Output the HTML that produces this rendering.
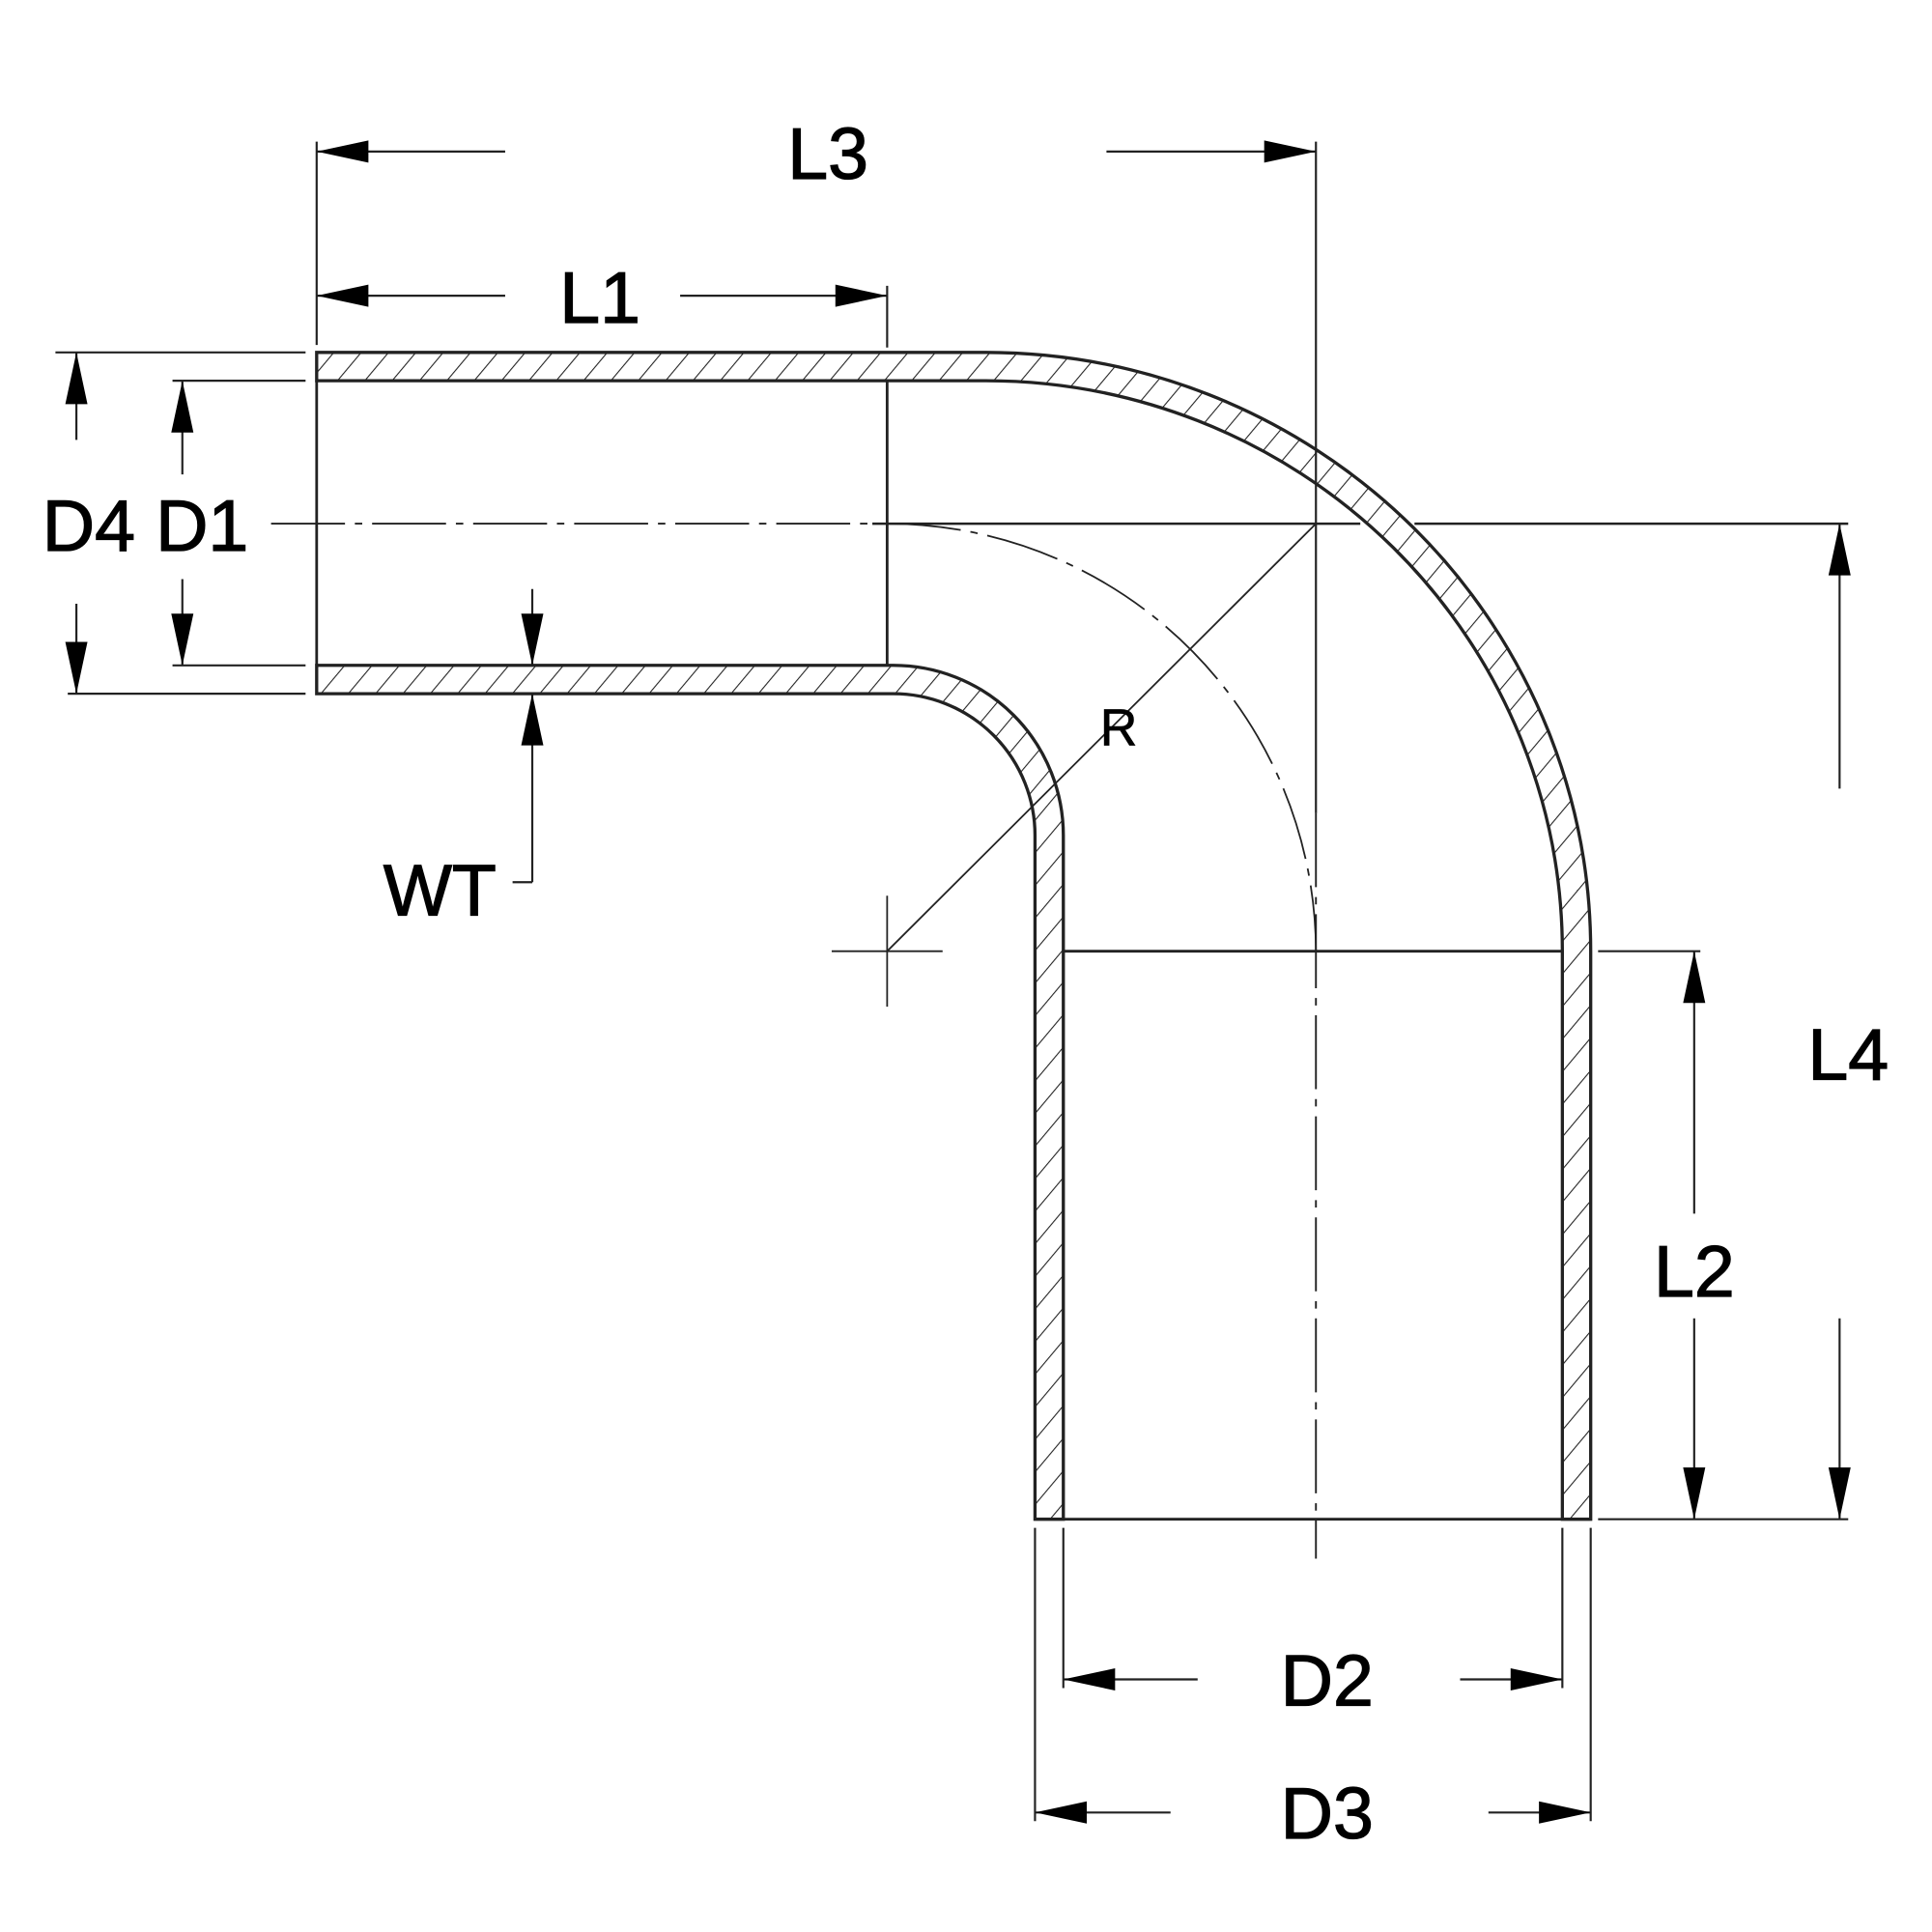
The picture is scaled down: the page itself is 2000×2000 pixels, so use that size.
<!DOCTYPE html>
<html><head><meta charset="utf-8"><style>html,body{margin:0;padding:0;background:#fff}svg{display:block}text{font-family:"Liberation Sans","DejaVu Sans",sans-serif;fill:#000}</style></head>
<body>
<svg width="2000" height="2000" viewBox="0 0 1568 1568" xmlns="http://www.w3.org/2000/svg">
<defs>
<pattern id="h" patternUnits="userSpaceOnUse" width="17" height="17" patternTransform="rotate(40)">
<rect width="17" height="17" fill="#fff"/><line x1="0" y1="0" x2="0" y2="17" stroke="#222" stroke-width="1.7"/>
</pattern>
</defs>
<g stroke="#222" stroke-width="2.6" fill="url(#h)">
<path d="M257,286 L800,286 A491,486 0 0 1 1291,772 L1291,1233 L1268,1233 L1268,772 A468,463 0 0 0 800,309 L257,309 Z"/>
<path d="M257,540 L725,540 A138,138 0 0 1 863,678 L863,1233 L840,1233 L840,678 A115,115 0 0 0 725,563 L257,563 Z"/>
</g>
<g stroke="#222" stroke-width="2.2" fill="none">
<line x1="257" y1="309" x2="257" y2="540"/>
<line x1="720" y1="309" x2="720" y2="540"/>
<line x1="863" y1="772" x2="1268" y2="772"/>
<line x1="840" y1="1233" x2="1291" y2="1233"/>
<line x1="220" y1="425" x2="720" y2="425" stroke-width="1.5" stroke-dasharray="60,8,6,8"/>
<path d="M720,425 A348,348 0 0 1 1068,772" stroke-width="1.4" stroke-dasharray="60,8,6,8"/>
<line x1="1068" y1="660" x2="1068" y2="1265" stroke-width="1.5" stroke-dasharray="60,8,6,8"/>
<line x1="1068" y1="115" x2="1068" y2="660" stroke-width="1.7"/>
<line x1="708" y1="425" x2="1104" y2="425" stroke-width="2"/>
<line x1="1148" y1="425" x2="1500" y2="425" stroke-width="2"/>
<line x1="720" y1="772" x2="1068" y2="425" stroke-width="1.4"/>
<line x1="675" y1="772" x2="765" y2="772" stroke-width="1.4"/>
<line x1="720" y1="727" x2="720" y2="817" stroke-width="1.4"/>
<line x1="257" y1="115" x2="257" y2="280" stroke-width="1.7"/>
<line x1="720" y1="232" x2="720" y2="282" stroke-width="1.7"/>
<line x1="45" y1="286" x2="248" y2="286" stroke-width="1.7"/>
<line x1="55" y1="563" x2="248" y2="563" stroke-width="1.7"/>
<line x1="140" y1="309" x2="248" y2="309" stroke-width="1.7"/>
<line x1="140" y1="540" x2="248" y2="540" stroke-width="1.7"/>
<line x1="1297" y1="772" x2="1380" y2="772" stroke-width="1.7"/>
<line x1="1297" y1="1233" x2="1500" y2="1233" stroke-width="1.7"/>
<line x1="840" y1="1240" x2="840" y2="1478" stroke-width="1.7"/>
<line x1="1291" y1="1240" x2="1291" y2="1478" stroke-width="1.7"/>
<line x1="863" y1="1240" x2="863" y2="1370" stroke-width="1.7"/>
<line x1="1268" y1="1240" x2="1268" y2="1370" stroke-width="1.7"/>
<line x1="257" y1="123" x2="410" y2="123" stroke-width="1.7"/>
<line x1="898" y1="123" x2="1068" y2="123" stroke-width="1.7"/>
<line x1="257" y1="240" x2="410" y2="240" stroke-width="1.7"/>
<line x1="552" y1="240" x2="720" y2="240" stroke-width="1.7"/>
<line x1="62" y1="286" x2="62" y2="357" stroke-width="1.7"/>
<line x1="62" y1="490" x2="62" y2="563" stroke-width="1.7"/>
<line x1="148" y1="309" x2="148" y2="385" stroke-width="1.7"/>
<line x1="148" y1="470" x2="148" y2="540" stroke-width="1.7"/>
<line x1="432" y1="478" x2="432" y2="540" stroke-width="1.7"/>
<line x1="432" y1="563" x2="432" y2="716" stroke-width="1.7"/>
<line x1="416" y1="716" x2="432" y2="716" stroke-width="1.7"/>
<line x1="1493" y1="425" x2="1493" y2="640" stroke-width="1.7"/>
<line x1="1493" y1="1070" x2="1493" y2="1233" stroke-width="1.7"/>
<line x1="1375" y1="772" x2="1375" y2="985" stroke-width="1.7"/>
<line x1="1375" y1="1070" x2="1375" y2="1233" stroke-width="1.7"/>
<line x1="863" y1="1363" x2="972" y2="1363" stroke-width="1.7"/>
<line x1="1185" y1="1363" x2="1268" y2="1363" stroke-width="1.7"/>
<line x1="840" y1="1471" x2="950" y2="1471" stroke-width="1.7"/>
<line x1="1208" y1="1471" x2="1291" y2="1471" stroke-width="1.7"/>
</g>
<g fill="#000">
<polygon points="257,123 299,114 299,132"/>
<polygon points="1068,123 1026,114 1026,132"/>
<polygon points="257,240 299,231 299,249"/>
<polygon points="720,240 678,231 678,249"/>
<polygon points="863,1363 905,1354 905,1372"/>
<polygon points="1268,1363 1226,1354 1226,1372"/>
<polygon points="840,1471 882,1462 882,1480"/>
<polygon points="1291,1471 1249,1462 1249,1480"/>
<polygon points="62,286 53,328 71,328"/>
<polygon points="62,563 53,521 71,521"/>
<polygon points="148,309 139,351 157,351"/>
<polygon points="148,540 139,498 157,498"/>
<polygon points="432,540 423,498 441,498"/>
<polygon points="432,563 423,605 441,605"/>
<polygon points="1493,425 1484,467 1502,467"/>
<polygon points="1493,1233 1484,1191 1502,1191"/>
<polygon points="1375,772 1366,814 1384,814"/>
<polygon points="1375,1233 1366,1191 1384,1191"/>
</g>
<g font-size="59" stroke="#000" stroke-width="1">
<text x="672" y="145" text-anchor="middle">L3</text>
<text x="487" y="262" text-anchor="middle">L1</text>
<text x="72" y="447" text-anchor="middle">D4</text>
<text x="164" y="447" text-anchor="middle">D1</text>
<text x="357" y="743" text-anchor="middle">WT</text>
<text x="1500" y="876" text-anchor="middle">L4</text>
<text x="1375" y="1052" text-anchor="middle">L2</text>
<text x="1077" y="1384" text-anchor="middle">D2</text>
<text x="1077" y="1492" text-anchor="middle">D3</text>
<text x="908" y="605" text-anchor="middle" font-size="42" stroke-width="0.5">R</text>
</g>
</svg>
</body></html>
